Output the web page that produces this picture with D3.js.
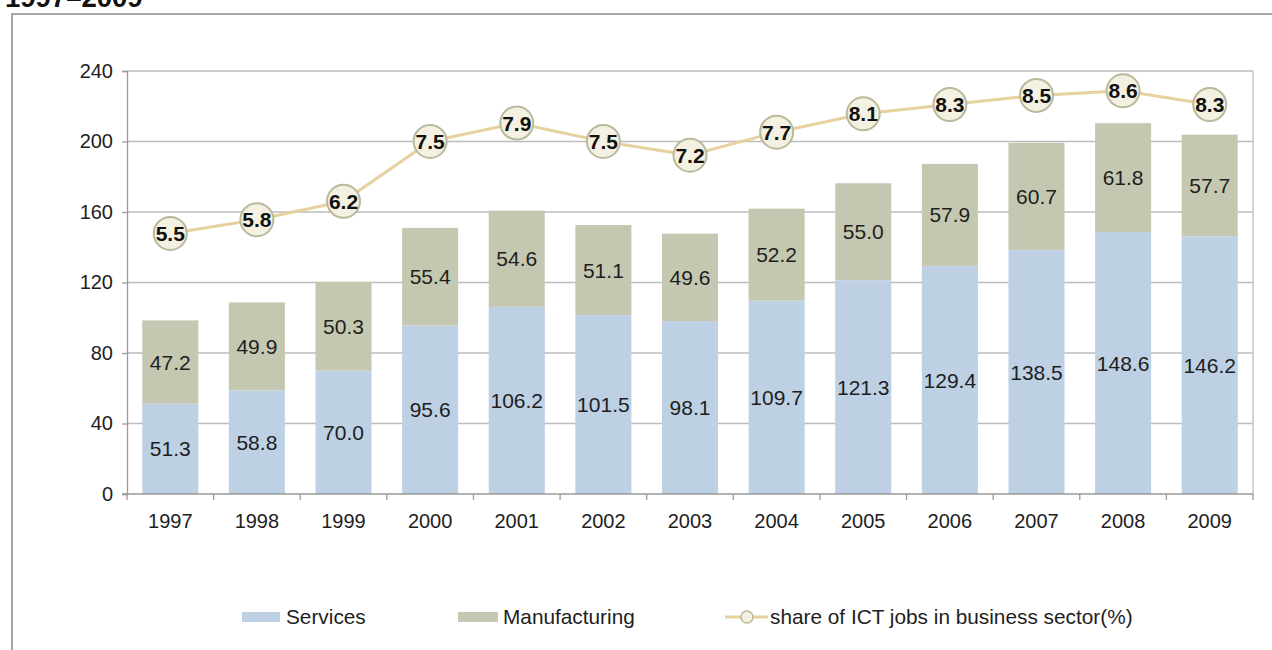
<!DOCTYPE html>
<html>
<head>
<meta charset="utf-8">
<script src="https://cdn.jsdelivr.net/npm/d3@7"></script>
<style>
  html, body { margin: 0; padding: 0; background: #fff; }
  svg { display: block; font-family: "Liberation Sans", Arial, sans-serif; }
</style>
</head>
<body>
<svg id="chart" width="1272" height="650"></svg>
<script>
// ICT employment by sector (thousands) and ICT share of business-sector jobs
const years = ["1997","1998","1999","2000","2001","2002","2003","2004","2005","2006","2007","2008","2009"];
const services = [51.3, 58.8, 70.0, 95.6, 106.2, 101.5, 98.1, 109.7, 121.3, 129.4, 138.5, 148.6, 146.2];
const manufacturing = [47.2, 49.9, 50.3, 55.4, 54.6, 51.1, 49.6, 52.2, 55.0, 57.9, 60.7, 61.8, 57.7];
const ictShare = [5.5, 5.8, 6.2, 7.5, 7.9, 7.5, 7.2, 7.7, 8.1, 8.3, 8.5, 8.6, 8.3];
const yTicks = [0, 40, 80, 120, 160, 200, 240];
const seriesNames = ["Services", "Manufacturing", "share of ICT jobs in business sector(%)"];

const colors = {
  services: "#bdd0e4",
  manufacturing: "#c5c8b1",
  line: "#e6d29f",
  markerFill: "#f4f1e2",
  markerStroke: "#b9b99c",
  grid: "#bdbdbd",
  text: "#1e1e1e"
};

const svg = d3.select("#chart");

// heading, partly clipped at the top edge
svg.append("text")
  .attr("x", 5).attr("y", 7)
  .attr("font-size", 27.5).attr("font-weight", "bold")
  .attr("fill", "#111")
  .text("1997–2009");

// outer frame
svg.append("rect")
  .attr("x", 12).attr("y", 14)
  .attr("width", 1300).attr("height", 700)
  .attr("fill", "none").attr("stroke", "#a6a6a6").attr("stroke-width", 2);

const plot = { left: 127, right: 1253, top: 71, bottom: 494 };

const x = d3.scaleBand().domain(years).range([plot.left, plot.right]).paddingInner(0.353).paddingOuter(0.176);
const xEdges = d3.scaleBand().domain(years).range([plot.left, plot.right]);
const y = d3.scaleLinear().domain([0, 240]).range([plot.bottom, plot.top]);
// secondary (unlabelled) scale for the share line
const y2 = d3.scaleLinear().domain([-0.16, 9.03]).range([plot.bottom, plot.top]);

// gridlines
svg.append("g").selectAll("line")
  .data(yTicks.filter(t => t > 0))
  .join("line")
  .attr("x1", plot.left).attr("x2", plot.right)
  .attr("y1", d => y(d)).attr("y2", d => y(d))
  .attr("stroke", colors.grid).attr("stroke-width", 1.3);

// right border of plot area
svg.append("line")
  .attr("x1", plot.right).attr("x2", plot.right)
  .attr("y1", plot.top).attr("y2", plot.bottom)
  .attr("stroke", colors.grid).attr("stroke-width", 1.3);

// stacked bars
const stackData = years.map((yr, i) => ({ year: yr, services: services[i], manufacturing: manufacturing[i] }));
const stack = d3.stack().keys(["services", "manufacturing"])(stackData);

const layers = svg.append("g").selectAll("g")
  .data(stack)
  .join("g")
  .attr("fill", d => colors[d.key]);

layers.selectAll("rect")
  .data(d => d)
  .join("rect")
  .attr("x", d => x(d.data.year))
  .attr("width", x.bandwidth())
  .attr("y", d => y(d[1]))
  .attr("height", d => y(d[0]) - y(d[1]));

layers.selectAll("text")
  .data(d => d.map(v => ({ v, key: d.key })))
  .join("text")
  .attr("x", d => x(d.v.data.year) + x.bandwidth() / 2)
  .attr("y", d => (y(d.v[0]) + y(d.v[1])) / 2)
  .attr("dy", "0.36em")
  .attr("text-anchor", "middle")
  .attr("font-size", 21)
  .attr("fill", colors.text)
  .text(d => d.v.data[d.key].toFixed(1));

// y axis
const yAxis = svg.append("g")
  .attr("transform", `translate(${plot.left},0)`)
  .call(d3.axisLeft(y).tickValues(yTicks).tickSize(5).tickPadding(9).tickFormat(d3.format("d")));
yAxis.select(".domain").attr("stroke", "#9a9a9a").attr("stroke-width", 1.3);
yAxis.selectAll(".tick line").attr("stroke", "#9a9a9a").attr("stroke-width", 1.3);
yAxis.selectAll("text").attr("font-size", 20).attr("fill", colors.text)
  .attr("font-family", "'Liberation Sans', Arial, sans-serif");

// x axis: category labels with ticks at category boundaries
const xAxisG = svg.append("g").attr("transform", `translate(0,${plot.bottom})`);
xAxisG.append("line")
  .attr("x1", plot.left - 5).attr("x2", plot.right)
  .attr("stroke", "#9a9a9a").attr("stroke-width", 1.3);
xAxisG.selectAll("line.tk")
  .data(years.concat(["end"]))
  .join("line").attr("class", "tk")
  .attr("x1", (d, i) => i < years.length ? xEdges(d) : plot.right)
  .attr("x2", (d, i) => i < years.length ? xEdges(d) : plot.right)
  .attr("y1", 0).attr("y2", 6)
  .attr("stroke", "#9a9a9a").attr("stroke-width", 1.3);
xAxisG.selectAll("text")
  .data(years)
  .join("text")
  .attr("x", d => x(d) + x.bandwidth() / 2)
  .attr("y", 34)
  .attr("text-anchor", "middle")
  .attr("font-size", 20)
  .attr("fill", colors.text)
  .text(d => d);

// share line with labelled markers
const line = d3.line()
  .x((d, i) => x(years[i]) + x.bandwidth() / 2)
  .y(d => y2(d));

svg.append("path")
  .datum(ictShare)
  .attr("d", line)
  .attr("fill", "none")
  .attr("stroke", colors.line)
  .attr("stroke-width", 3);

const markers = svg.append("g").selectAll("g")
  .data(ictShare)
  .join("g")
  .attr("transform", (d, i) => `translate(${x(years[i]) + x.bandwidth() / 2},${y2(d)})`);

markers.append("circle")
  .attr("r", 16.5)
  .attr("fill", colors.markerFill)
  .attr("stroke", colors.markerStroke)
  .attr("stroke-width", 2);

markers.append("text")
  .attr("text-anchor", "middle")
  .attr("dy", "0.36em")
  .attr("font-size", 21)
  .attr("font-weight", "bold")
  .attr("fill", "#111")
  .text(d => d.toFixed(1));

// legend
const legend = svg.append("g").attr("font-size", 20.8).attr("fill", colors.text);
const ly = 617;

legend.append("rect").attr("x", 242).attr("y", ly - 5).attr("width", 38).attr("height", 10).attr("fill", colors.services);
legend.append("text").attr("x", 286).attr("y", ly).attr("dy", "0.36em").text(seriesNames[0]);

legend.append("rect").attr("x", 458).attr("y", ly - 5).attr("width", 40).attr("height", 10).attr("fill", colors.manufacturing);
legend.append("text").attr("x", 503).attr("y", ly).attr("dy", "0.36em").text(seriesNames[1]);

legend.append("line").attr("x1", 725).attr("x2", 768).attr("y1", ly).attr("y2", ly)
  .attr("stroke", colors.line).attr("stroke-width", 3);
legend.append("circle").attr("cx", 747).attr("cy", ly).attr("r", 6)
  .attr("fill", colors.markerFill).attr("stroke", colors.markerStroke).attr("stroke-width", 1.5);
legend.append("text").attr("x", 770).attr("y", ly).attr("dy", "0.36em").text(seriesNames[2]);
</script>
</body>
</html>
